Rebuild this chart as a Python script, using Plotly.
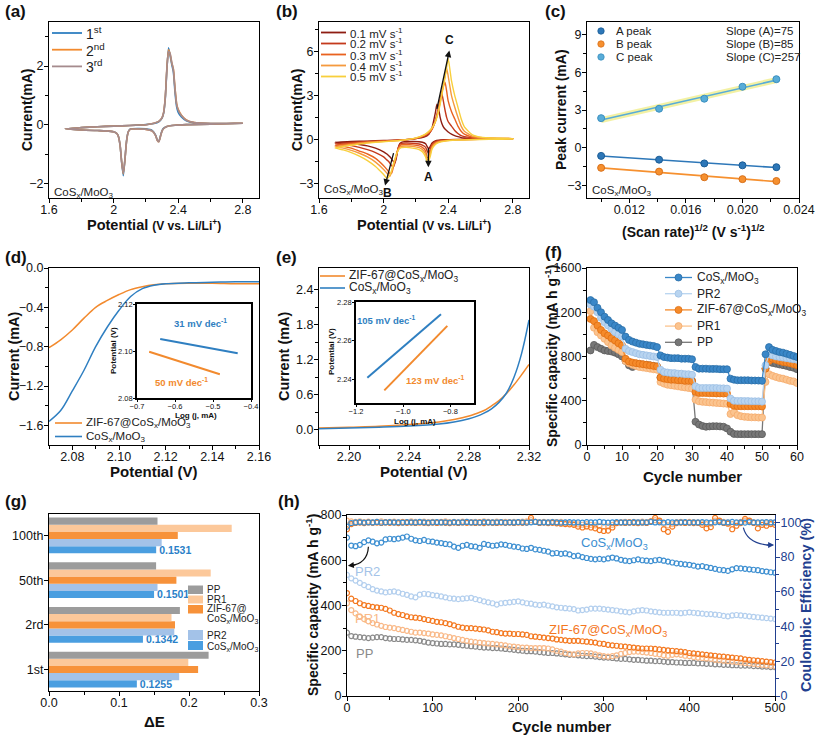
import plotly.graph_objects as go
import numpy as np

W, H = 817, 736
FONT = "Liberation Sans, Arial, sans-serif"

# ---------------- (a) CV, three cycles ----------------
A_V_AN = [1.70, 1.80, 1.90, 2.00, 2.10, 2.20, 2.25, 2.28, 2.30, 2.31, 2.32, 2.33, 2.34, 2.35, 2.36,
          2.37, 2.38, 2.39, 2.40, 2.42, 2.45, 2.50, 2.60, 2.70, 2.80]
A_AN_1 = [-0.14, -0.10, -0.07, -0.05, -0.03, 0.0, 0.04, 0.10, 0.22, 0.40, 0.90, 1.90, 2.62, 2.35, 2.05,
          1.80, 1.10, 0.62, 0.42, 0.26, 0.13, 0.06, 0.04, 0.04, 0.05]
A_AN_2 = [-0.14, -0.10, -0.07, -0.05, -0.03, 0.0, 0.05, 0.11, 0.24, 0.43, 0.95, 1.95, 2.55, 2.40, 2.10,
          1.90, 1.25, 0.72, 0.52, 0.32, 0.16, 0.07, 0.04, 0.04, 0.05]
A_AN_3 = [-0.14, -0.10, -0.07, -0.05, -0.03, 0.0, 0.05, 0.11, 0.24, 0.42, 0.93, 1.92, 2.50, 2.42, 2.12,
          1.88, 1.22, 0.70, 0.50, 0.31, 0.15, 0.07, 0.04, 0.04, 0.05]
A_V_CA = [2.80, 2.60, 2.45, 2.38, 2.33, 2.31, 2.30, 2.29, 2.28, 2.27, 2.26, 2.24, 2.20, 2.15, 2.11, 2.10,
          2.09, 2.08, 2.07, 2.06, 2.05, 2.04, 2.03, 2.02, 2.00, 1.95, 1.90, 1.80, 1.70]
A_CA_1 = [0.05, 0.02, 0.0, -0.02, -0.06, -0.12, -0.20, -0.38, -0.57, -0.52, -0.36, -0.20, -0.14, -0.13, -0.14,
          -0.16, -0.25, -0.55, -1.20, -1.74, -1.30, -0.70, -0.40, -0.30, -0.24, -0.21, -0.20, -0.18, -0.14]
A_CA_2 = [0.05, 0.02, 0.0, -0.02, -0.06, -0.13, -0.21, -0.40, -0.58, -0.53, -0.37, -0.22, -0.16, -0.15, -0.15,
          -0.17, -0.26, -0.57, -1.20, -1.68, -1.28, -0.70, -0.41, -0.30, -0.24, -0.21, -0.20, -0.18, -0.14]
A_CA_3 = [0.05, 0.02, 0.0, -0.02, -0.06, -0.13, -0.21, -0.40, -0.58, -0.53, -0.37, -0.22, -0.16, -0.15, -0.15,
          -0.17, -0.26, -0.57, -1.18, -1.66, -1.27, -0.70, -0.41, -0.30, -0.24, -0.21, -0.20, -0.18, -0.14]
A_NAMES = ["1<sup>st</sup>", "2<sup>nd</sup>", "3<sup>rd</sup>"]
A_COLORS = ["#2f7fc1", "#f28a2e", "#a58b8d"]

# ---------------- (b) CV at different scan rates ----------------
B_RATES = ["0.1 mV s<sup>-1</sup>", "0.2 mV s<sup>-1</sup>", "0.3 mV s<sup>-1</sup>",
           "0.4 mV s<sup>-1</sup>", "0.5 mV s<sup>-1</sup>"]
B_V_AN = [1.70, 1.80, 1.90, 2.00, 2.10, 2.20, 2.25, 2.28, 2.30, 2.32, 2.33, 2.34, 2.35, 2.36, 2.37, 2.38,
          2.39, 2.40, 2.42, 2.44, 2.46, 2.48, 2.50, 2.55, 2.60, 2.70, 2.80]
B_AN = [
    [-0.20, -0.15, -0.12, -0.08, -0.04, 0.05, 0.15, 0.35, 0.8, 1.8, 2.4, 2.1, 1.5, 1.1, 0.85, 0.7,
     0.6, 0.5, 0.35, 0.25, 0.18, 0.12, 0.09, 0.06, 0.05, 0.05, 0.05],
    [-0.30, -0.22, -0.15, -0.10, -0.05, 0.06, 0.2, 0.4, 0.7, 1.3, 1.7, 2.2, 2.7, 3.15, 2.6, 2.0,
     1.5, 1.2, 0.9, 0.6, 0.4, 0.25, 0.18, 0.1, 0.07, 0.05, 0.05],
    [-0.40, -0.28, -0.18, -0.12, -0.06, 0.07, 0.25, 0.45, 0.7, 1.2, 1.6, 2.1, 2.6, 3.2, 3.6, 3.9,
     3.3, 2.6, 1.9, 1.4, 0.9, 0.55, 0.35, 0.15, 0.1, 0.06, 0.05],
    [-0.50, -0.34, -0.22, -0.14, -0.07, 0.08, 0.28, 0.5, 0.75, 1.2, 1.55, 2.0, 2.5, 3.1, 3.7, 4.3,
     4.85, 4.3, 3.0, 2.2, 1.5, 0.9, 0.55, 0.22, 0.12, 0.07, 0.05],
    [-0.60, -0.40, -0.26, -0.16, -0.08, 0.10, 0.3, 0.55, 0.8, 1.2, 1.5, 1.9, 2.4, 3.0, 3.6, 4.2,
     4.9, 5.5, 4.0, 3.0, 2.2, 1.4, 0.85, 0.3, 0.15, 0.08, 0.05],
]
B_V_CA = [2.80, 2.60, 2.45, 2.38, 2.34, 2.32, 2.30, 2.29, 2.28, 2.27, 2.26, 2.24, 2.22, 2.18, 2.14, 2.11,
          2.10, 2.09, 2.08, 2.07, 2.06, 2.05, 2.04, 2.03, 2.02, 2.00, 1.95, 1.90, 1.85, 1.80, 1.75, 1.70]
B_CA = [
    [0.05, 0.02, 0.0, -0.02, -0.05, -0.1, -0.25, -0.45, -0.65, -0.5, -0.3, -0.2, -0.16, -0.14, -0.15, -0.2,
     -0.3, -0.6, -1.2, -1.6, -1.5, -1.35, -1.2, -1.1, -1.0, -0.85, -0.6, -0.45, -0.35, -0.28, -0.23, -0.2],
    [0.05, 0.02, -0.02, -0.05, -0.1, -0.15, -0.35, -0.6, -0.95, -0.8, -0.55, -0.4, -0.32, -0.27, -0.25, -0.27,
     -0.35, -0.6, -1.1, -1.6, -1.9, -1.8, -1.65, -1.5, -1.4, -1.2, -0.9, -0.7, -0.55, -0.43, -0.35, -0.3],
    [0.04, 0.01, -0.03, -0.08, -0.15, -0.22, -0.45, -0.8, -1.2, -1.25, -0.8, -0.55, -0.45, -0.38, -0.35, -0.37,
     -0.45, -0.65, -1.0, -1.5, -1.9, -2.3, -2.35, -2.2, -2.05, -1.8, -1.3, -1.0, -0.8, -0.6, -0.48, -0.4],
    [0.04, 0.0, -0.04, -0.1, -0.18, -0.28, -0.55, -0.95, -1.3, -1.4, -1.0, -0.7, -0.57, -0.48, -0.45, -0.47,
     -0.55, -0.7, -1.0, -1.4, -1.8, -2.2, -2.5, -2.45, -2.3, -2.05, -1.55, -1.2, -0.95, -0.75, -0.6, -0.5],
    [0.03, -0.01, -0.05, -0.12, -0.22, -0.35, -0.65, -1.1, -1.45, -1.6, -1.2, -0.85, -0.7, -0.6, -0.55, -0.57,
     -0.63, -0.75, -1.0, -1.35, -1.7, -2.1, -2.4, -2.6, -2.65, -2.4, -1.85, -1.45, -1.15, -0.9, -0.72, -0.6],
]
B_COLORS = ["#8e1d12", "#c43a1c", "#e9621f", "#f59a3e", "#f8cf3c"]

# ---------------- (c) peak current vs sqrt(scan rate) ----------------
C_X = [0.0100, 0.0141, 0.0173, 0.0200, 0.0224]
C_A = [-0.65, -0.95, -1.25, -1.40, -1.55]
C_B = [-1.60, -1.90, -2.35, -2.50, -2.65]
C_C = [2.35, 3.10, 3.90, 4.85, 5.45]
C_NAMES = ["A peak", "B peak", "C peak"]
C_SLOPES = ["Slope (A)=75", "Slope (B)=85", "Slope (C)=257"]
C_COLORS = ["#2d77b8", "#f6902f", "#58acd8"]
C_EDGES = ["#1b5d96", "#d8701a", "#3a8fbf"]

# ---------------- (d) LSV (reduction) ----------------
D_V = [2.070, 2.075, 2.080, 2.085, 2.090, 2.095, 2.100, 2.105, 2.110, 2.115, 2.120, 2.130, 2.140, 2.150, 2.160]
D_ZIF = [-0.81, -0.73, -0.63, -0.51, -0.40, -0.33, -0.27, -0.22, -0.19, -0.17, -0.16, -0.155, -0.155, -0.16, -0.16]
D_CO = [-1.56, -1.45, -1.25, -1.04, -0.80, -0.60, -0.43, -0.29, -0.21, -0.175, -0.16, -0.15, -0.145, -0.14, -0.14]
D_TAFEL_ZIF_X = [-0.668, -0.482]
D_TAFEL_ZIF_Y = [2.0997, 2.0901]
D_TAFEL_CO_X = [-0.639, -0.435]
D_TAFEL_CO_Y = [2.1051, 2.0990]

# ---------------- (e) LSV (oxidation) ----------------
E_V = [2.18, 2.20, 2.22, 2.24, 2.26, 2.27, 2.28, 2.285, 2.29, 2.295, 2.30, 2.305, 2.31, 2.315, 2.32]
E_ZIF = [0.03, 0.045, 0.06, 0.09, 0.135, 0.175, 0.235, 0.28, 0.33, 0.41, 0.50, 0.62, 0.77, 0.94, 1.12]
E_CO = [0.02, 0.03, 0.045, 0.065, 0.10, 0.135, 0.19, 0.23, 0.285, 0.36, 0.47, 0.63, 0.90, 1.30, 1.88]
E_TAFEL_ZIF_X = [-1.080, -0.813]
E_TAFEL_ZIF_Y = [2.2345, 2.2677]
E_TAFEL_CO_X = [-1.152, -0.840]
E_TAFEL_CO_Y = [2.2410, 2.2737]

# ---------------- (f) rate capability ----------------
F_CYC = list(range(1, 61))
F_CO = [1310, 1290, 1240, 1200, 1160, 1130, 1100, 1080, 1060, 1040,
        980, 950, 935, 925, 915, 910, 905, 900, 895, 885,
        810, 795, 790, 785, 785, 785, 780, 780, 780, 775,
        705, 690, 690, 690, 688, 688, 688, 685, 685, 685,
        600, 590, 585, 585, 585, 585, 583, 583, 582, 580,
        820, 885, 860, 850, 840, 835, 825, 815, 805, 795]
F_PR2 = [1270, 1250, 1200, 1150, 1110, 1080, 1050, 1020, 1000, 980,
         870, 850, 840, 830, 820, 815, 810, 805, 800, 795,
         680, 660, 655, 650, 650, 645, 645, 640, 640, 635,
         530, 515, 515, 515, 515, 515, 515, 512, 512, 510,
         420, 400, 398, 398, 397, 397, 395, 395, 395, 392,
         720, 820, 810, 800, 795, 790, 785, 780, 775, 770]
F_ZIF = [1140, 1120, 1080, 1040, 1010, 990, 965, 945, 920, 900,
         780, 755, 745, 740, 735, 730, 725, 720, 715, 710,
         610, 600, 595, 590, 590, 585, 585, 580, 580, 578,
         480, 470, 470, 470, 468, 468, 466, 466, 465, 465,
         370, 355, 350, 350, 350, 350, 350, 350, 350, 348,
         690, 760, 780, 770, 760, 750, 745, 740, 730, 720]
F_PR1 = [1210, 1060, 1020, 990, 960, 930, 900, 880, 860, 840,
         760, 740, 725, 715, 705, 700, 695, 690, 685, 680,
         570, 555, 545, 540, 535, 530, 525, 520, 515, 510,
         410, 395, 390, 388, 385, 383, 380, 378, 375, 372,
         280, 295, 270, 260, 255, 252, 250, 250, 248, 248,
         570, 640, 625, 615, 605, 600, 590, 580, 575, 560]
F_PP = [855, 905, 885, 870, 855, 850, 845, 835, 820, 800,
        760, 720, 705, 735, 730, 728, 725, 720, 715, 710,
        610, 600, 598, 595, 592, 590, 588, 585, 582, 580,
        210, 185, 172, 165, 168, 170, 170, 168, 165, 150,
        120, 100, 98, 98, 98, 98, 98, 98, 98, 98,
        690, 750, 742, 735, 728, 722, 715, 705, 698, 685]
F_NAMES = ["CoS<sub>x</sub>/MoO<sub>3</sub>", "PR2", "ZIF-67@CoS<sub>x</sub>/MoO<sub>3</sub>", "PR1", "PP"]
F_COLORS = ["#3a87c8", "#b8d4f0", "#f58a2a", "#fbc48f", "#777777"]
F_EDGES = ["#2a6ea8", "#9cbfe4", "#e06f12", "#f5ab6c", "#5a5a5a"]

# ---------------- (g) ΔE bars ----------------
G_CATS = ["1st", "2rd", "50th", "100th"]
G_PP = [0.228, 0.187, 0.153, 0.155]
G_PR1 = [0.199, 0.175, 0.231, 0.261]
G_ZIF = [0.213, 0.180, 0.182, 0.184]
G_PR2 = [0.186, 0.179, 0.155, 0.161]
G_CO = [0.1255, 0.1342, 0.1501, 0.1531]
G_COLORS = {"PP": "#9c9c9c", "PR1": "#fcc89a", "ZIF": "#f7923a", "PR2": "#a3c2e8", "CO": "#4a9ee0"}

# ---------------- (h) long cycling ----------------
H_CYC = list(range(0, 501, 5))
H_CO = [700, 665, 662, 668, 680, 688, 682, 675, 678, 692,
        695, 693, 696, 700, 705, 695, 688, 685, 690, 684,
        682, 678, 676, 672, 670, 660, 655, 664, 668, 662,
        660, 655, 672, 668, 664, 666, 670, 668, 664, 660,
        658, 652, 650, 655, 648, 646, 642, 638, 630, 632,
        628, 630, 626, 618, 620, 614, 610, 606, 604, 606,
        604, 608, 612, 608, 602, 598, 596, 600, 604, 600,
        598, 596, 600, 602, 598, 594, 590, 586, 584, 582,
        580, 576, 572, 574, 570, 566, 562, 558, 556, 553,
        560, 565, 564, 562, 560, 558, 556, 552, 550, 547, 545]
H_PR2 = [535, 520, 510, 500, 490, 482, 472, 466, 462, 458,
         460, 462, 458, 452, 447, 440, 436, 448, 452, 450,
         446, 444, 440, 436, 432, 430, 428, 430, 432, 434,
         428, 424, 418, 414, 410, 404, 410, 412, 414, 416,
         418, 414, 410, 408, 404, 402, 404, 400, 396, 392,
         390, 388, 386, 384, 378, 380, 382, 386, 386, 386,
         384, 382, 380, 378, 374, 372, 370, 374, 378, 380,
         378, 374, 372, 370, 368, 368, 368, 368, 366, 368,
         370, 368, 366, 364, 362, 362, 360, 358, 354, 352,
         356, 358, 356, 354, 352, 350, 348, 346, 344, 342, 340]
H_ZIF = [455, 430, 420, 410, 402, 398, 394, 392, 390, 385,
         378, 368, 362, 358, 352, 348, 346, 344, 340, 336,
         332, 328, 326, 322, 318, 312, 306, 302, 300, 300,
         298, 296, 294, 290, 284, 282, 278, 276, 276, 274,
         274, 272, 270, 264, 262, 260, 258, 256, 254, 250,
         248, 246, 244, 244, 244, 242, 240, 238, 236, 232,
         230, 226, 224, 222, 220, 218, 216, 214, 212, 210,
         210, 210, 208, 206, 204, 202, 200, 198, 196, 194,
         190, 188, 186, 184, 182, 180, 178, 175, 174, 172,
         170, 168, 166, 162, 160, 158, 156, 154, 152, 150, 148]
H_PR1 = [410, 380, 365, 352, 340, 330, 322, 316, 310, 305,
         302, 300, 296, 292, 288, 284, 280, 280, 278, 276,
         272, 270, 268, 264, 260, 256, 252, 248, 244, 240,
         238, 236, 234, 232, 230, 228, 226, 224, 220, 218,
         216, 214, 214, 212, 212, 212, 212, 210, 206, 200,
         196, 190, 186, 184, 188, 190, 190, 188, 184, 180,
         176, 174, 176, 180, 186, 190, 194, 196, 196, 194,
         192, 190, 186, 184, 180, 178, 182, 184, 182, 178,
         176, 172, 170, 168, 166, 164, 160, 158, 156, 154,
         152, 150, 148, 146, 144, 142, 140, 138, 136, 134, 132]
H_PP = [280, 265, 262, 260, 258, 256, 258, 260, 260, 256,
        254, 252, 252, 250, 248, 248, 246, 244, 240, 236,
        234, 232, 230, 230, 228, 228, 226, 224, 222, 220,
        218, 216, 214, 214, 212, 212, 210, 208, 206, 204,
        202, 200, 198, 198, 196, 194, 192, 190, 190, 188,
        186, 184, 182, 182, 180, 178, 176, 176, 174, 172,
        170, 170, 168, 166, 164, 164, 162, 160, 160, 158,
        156, 156, 154, 154, 152, 150, 150, 148, 148, 146,
        146, 146, 144, 144, 142, 142, 140, 140, 138, 138,
        136, 136, 134, 134, 134, 132, 132, 130, 130, 128, 128]
H_CE_CO = [97.5, 99.6, 99.9, 100.1, 99.8, 100.0, 99.9, 100.2, 99.8, 100.0,
           100.1, 99.9, 100.0, 99.8, 100.1, 100.0, 99.9, 100.2, 100.0, 99.8,
           100.0, 100.1, 99.9, 100.0, 99.8, 100.1, 99.9, 100.0, 100.2, 99.9,
           100.0, 99.8, 100.1, 100.0, 99.9, 100.0, 100.1, 99.8, 100.0, 99.9,
           100.1, 100.0, 99.8, 100.0, 100.2, 99.9, 100.0, 99.9, 100.1, 100.0,
           99.8, 100.0, 100.1, 99.9, 100.0, 99.8, 100.1, 100.0, 99.9, 100.2,
           100.0, 99.8, 100.0, 100.1, 99.9, 100.0, 99.8, 100.1, 100.0, 99.9,
           100.0, 100.2, 99.9, 100.0, 99.8, 100.1, 100.0, 99.9, 100.0, 100.1,
           99.8, 100.0, 99.9, 100.1, 100.0, 99.8, 100.0, 100.1, 99.9, 100.0,
           100.2, 99.9, 100.0, 99.8, 100.1, 100.0, 99.9, 100.0, 100.1, 99.9, 100.0]
H_CE_ZIF = [96.0, 99.0, 99.6, 99.8, 99.5, 99.9, 99.7, 99.8, 99.6, 99.9,
            99.7, 99.8, 99.5, 99.9, 99.7, 99.8, 99.6, 99.9, 99.7, 99.5,
            99.8, 99.6, 99.9, 99.7, 99.5, 99.8, 99.6, 99.9, 99.7, 99.8,
            99.6, 99.9, 99.5, 99.8, 99.7, 99.6, 99.9, 99.7, 99.8, 99.6,
            99.9, 99.7, 99.8, 102.5, 100.2, 99.6, 99.8, 99.5, 99.7, 99.4,
            99.2, 99.0, 98.8, 98.5, 97.5, 97.0, 97.6, 97.0, 96.5, 95.5,
            95.0, 95.2, 97.0, 99.5, 99.8, 99.6, 99.9, 99.7, 99.5, 99.8,
            99.6, 100.5, 102.5, 101.0, 96.0, 94.5, 97.5, 99.5, 99.8, 99.6,
            99.8, 99.5, 99.7, 98.5, 96.5, 97.2, 102.5, 101.0, 99.6, 99.2,
            96.0, 98.0, 99.5, 102.0, 101.0, 99.6, 96.5, 98.5, 98.0, 99.0, 98.5]
H_CE_PR1 = [101.0, 100.5, 100.2, 100.6, 100.1, 100.4, 100.0, 100.3, 100.5, 100.1,
            100.2, 100.4, 100.0, 100.3, 100.1, 100.5, 100.2, 100.0, 100.4, 100.1,
            100.3, 100.0, 100.2, 100.5, 100.1, 100.3, 100.0, 100.4, 100.2, 100.1,
            100.3, 100.0, 100.5, 100.2, 100.1, 100.4, 100.0, 100.3, 100.1, 100.2,
            100.0, 100.4, 100.6, 101.2, 100.3, 100.1, 100.2, 100.0, 100.3, 100.1,
            100.2, 99.8, 99.6, 99.2, 98.8, 98.6, 98.9, 98.5, 98.2, 97.8,
            97.5, 97.6, 98.5, 99.6, 100.0, 100.3, 100.1, 100.2, 100.0, 100.4,
            100.1, 100.6, 101.2, 100.5, 99.0, 98.2, 99.0, 100.1, 100.3, 100.0,
            100.2, 100.1, 99.8, 99.5, 99.0, 99.2, 101.0, 100.6, 100.2, 99.8,
            99.0, 99.6, 100.2, 101.0, 100.5, 100.0, 99.4, 99.8, 99.5, 100.0, 99.8]

BLUE = "#2f7fc1"
ORANGE = "#f28a2e"
C_CO = "#3d8fd1"
C_PR2 = "#b3cfee"
C_ZIF = "#f4781f"
C_PR1 = "#f9b988"
C_PP = "#8a8a8a"
NAVY = "#22408f"
CO_NAME = "CoS<sub>x</sub>/MoO<sub>3</sub>"
ZIF_NAME = "ZIF-67@CoS<sub>x</sub>/MoO<sub>3</sub>"


def dx(l, r):
    return [l / W, r / W]


def dy(t, b):
    return [1 - b / H, 1 - t / H]


def axis(dom, anchor, rng, tickvals=None, minor=None, tsize=12.5, lw=1.2, **kw):
    d = dict(domain=dom, anchor=anchor, range=rng, showline=True, linecolor="black", linewidth=lw,
             mirror=True, ticks="outside", ticklen=4, tickwidth=1.1, tickcolor="black",
             showgrid=False, zeroline=False, automargin=False,
             tickfont=dict(size=tsize, color="#111", family=FONT))
    if tickvals is not None:
        d["tickvals"] = tickvals
    if minor is not None:
        d["minor"] = dict(ticks="outside", ticklen=2.5, tickwidth=1, tickcolor="black",
                          tickvals=minor, showgrid=False)
    d.update(kw)
    return d


fig = go.Figure()
SL = dict(showlegend=False)

# ---- (a)
for an, ca, col in zip([A_AN_1, A_AN_2, A_AN_3], [A_CA_1, A_CA_2, A_CA_3], A_COLORS):
    fig.add_trace(go.Scatter(x=A_V_AN + A_V_CA, y=an + ca, mode="lines", **SL,
                             line=dict(color=col, width=1.6, shape="spline", smoothing=0.5),
                             xaxis="x", yaxis="y"))

# ---- (b)
for an, ca, col in zip(B_AN, B_CA, B_COLORS):
    fig.add_trace(go.Scatter(x=B_V_AN + B_V_CA, y=an + ca, mode="lines", **SL,
                             line=dict(color=col, width=1.4, shape="spline", smoothing=0.5),
                             xaxis="x2", yaxis="y2"))

# ---- (c)
c_fit_x = np.array([C_X[0], C_X[-1]])
k = np.polyfit(C_X, C_C, 1)
fig.add_trace(go.Scatter(x=c_fit_x, y=np.polyval(k, c_fit_x), mode="lines", **SL,
                         line=dict(color="rgba(240,238,140,0.8)", width=6), xaxis="x3", yaxis="y3",
                         hoverinfo="skip"))
for ys, col in zip([C_A, C_B, C_C], C_COLORS):
    k = np.polyfit(C_X, ys, 1)
    fig.add_trace(go.Scatter(x=c_fit_x, y=np.polyval(k, c_fit_x), mode="lines", **SL,
                             line=dict(color=col, width=1.6), xaxis="x3", yaxis="y3"))
for ys, col, edge in zip([C_A, C_B, C_C], C_COLORS, C_EDGES):
    fig.add_trace(go.Scatter(x=C_X, y=ys, mode="markers", **SL,
                             marker=dict(size=7, color=col, line=dict(color=edge, width=1)),
                             xaxis="x3", yaxis="y3"))

# ---- (d)
fig.add_trace(go.Scatter(x=D_V, y=D_ZIF, mode="lines", **SL,
                         line=dict(color=ORANGE, width=1.5, shape="spline"), xaxis="x4", yaxis="y4"))
fig.add_trace(go.Scatter(x=D_V, y=D_CO, mode="lines", **SL,
                         line=dict(color=BLUE, width=1.5, shape="spline"), xaxis="x4", yaxis="y4"))
fig.add_trace(go.Scatter(x=D_TAFEL_CO_X, y=D_TAFEL_CO_Y, mode="lines", **SL,
                         line=dict(color=BLUE, width=2), xaxis="x5", yaxis="y5"))
fig.add_trace(go.Scatter(x=D_TAFEL_ZIF_X, y=D_TAFEL_ZIF_Y, mode="lines", **SL,
                         line=dict(color=ORANGE, width=2), xaxis="x5", yaxis="y5"))

# ---- (e)
fig.add_trace(go.Scatter(x=E_V, y=E_ZIF, mode="lines", **SL,
                         line=dict(color=ORANGE, width=1.5, shape="spline"), xaxis="x6", yaxis="y6"))
fig.add_trace(go.Scatter(x=E_V, y=E_CO, mode="lines", **SL,
                         line=dict(color=BLUE, width=1.5, shape="spline"), xaxis="x6", yaxis="y6"))
fig.add_trace(go.Scatter(x=E_TAFEL_CO_X, y=E_TAFEL_CO_Y, mode="lines", **SL,
                         line=dict(color=BLUE, width=2), xaxis="x7", yaxis="y7"))
fig.add_trace(go.Scatter(x=E_TAFEL_ZIF_X, y=E_TAFEL_ZIF_Y, mode="lines", **SL,
                         line=dict(color=ORANGE, width=2), xaxis="x7", yaxis="y7"))

# ---- (f)
for ys, col, edge in reversed(list(zip([F_CO, F_PR2, F_ZIF, F_PR1, F_PP], F_COLORS, F_EDGES))):
    fig.add_trace(go.Scatter(x=F_CYC, y=ys, mode="lines+markers", **SL,
                             line=dict(color=col, width=1.3),
                             marker=dict(size=7, color=col, line=dict(color=edge, width=0.8)),
                             xaxis="x8", yaxis="y8"))

# ---- (g)  (first trace sits lowest in each group)
for key, vals in [("CO", G_CO), ("PR2", G_PR2), ("ZIF", G_ZIF), ("PR1", G_PR1), ("PP", G_PP)]:
    is_co = key == "CO"
    fig.add_trace(go.Bar(y=G_CATS, x=vals, orientation="h", **SL,
                         marker=dict(color=G_COLORS[key], line=dict(width=0)),
                         text=[f"<b>{v:.4f}</b>" for v in vals] if is_co else None,
                         textposition="outside" if is_co else "none",
                         textfont=dict(size=10.5, color="#2a80c8", family=FONT),
                         constraintext="none", cliponaxis=False,
                         xaxis="x9", yaxis="y9"))

# ---- (h)
for ys, col in [(H_CE_PR1, C_PR1), (H_CE_ZIF, C_ZIF), (H_CE_CO, C_CO)]:
    fig.add_trace(go.Scatter(x=H_CYC, y=ys, mode="markers", **SL,
                             marker=dict(symbol="circle-open", size=5, color=col, line=dict(width=1.2)),
                             xaxis="x10", yaxis="y11"))
for ys, col in [(H_PP, C_PP), (H_PR1, C_PR1), (H_ZIF, C_ZIF), (H_PR2, C_PR2), (H_CO, C_CO)]:
    fig.add_trace(go.Scatter(x=H_CYC, y=ys, mode="markers", **SL,
                             marker=dict(symbol="circle-open", size=5, color=col, line=dict(width=1.2)),
                             xaxis="x10", yaxis="y10"))

# ---------------- axes ----------------
AX = dx(49, 259); BX = dx(319, 529); CX = dx(587, 799)
ROW1 = dy(22, 198); ROW2 = dy(268, 445)
INS = dict(tsize=7.5, lw=1.8, ticklen=2)
layout_axes = dict(
    xaxis=axis(AX, "y", [1.6, 2.9], [1.6, 2.0, 2.4, 2.8], [1.8, 2.2, 2.6]),
    yaxis=axis(ROW1, "x", [-2.5, 3.5], [-2, 0, 2], [-1, 1, 3]),
    xaxis2=axis(BX, "y2", [1.6, 2.9], [1.6, 2.0, 2.4, 2.8], [1.8, 2.2, 2.6]),
    yaxis2=axis(ROW1, "x2", [-4, 8], [-3, 0, 3, 6], [-1.5, 1.5, 4.5, 7.5]),
    xaxis3=axis(CX, "y3", [0.009, 0.024], [0.012, 0.016, 0.020, 0.024], [0.010, 0.014, 0.018, 0.022],
                tickformat=".3f"),
    yaxis3=axis(ROW1, "x3", [-4, 10], [-3, 0, 3, 6, 9], [-1.5, 1.5, 4.5, 7.5]),
    xaxis4=axis(AX, "y4", [2.07, 2.16], [2.08, 2.10, 2.12, 2.14, 2.16], [2.07, 2.09, 2.11, 2.13, 2.15],
                tickformat=".2f"),
    yaxis4=axis(ROW2, "x4", [-1.8, 0.0], [-1.6, -1.2, -0.8, -0.4, 0.0], [-1.4, -1.0, -0.6, -0.2],
                tickformat=".1f"),
    xaxis5=axis(dx(137, 251), "y5", [-0.7, -0.4], [-0.7, -0.6, -0.5, -0.4], tickformat=".1f",
                tickprefix="<b>", ticksuffix="</b>", **INS),
    yaxis5=axis(dy(304, 398), "x5", [2.08, 2.12], [2.08, 2.10, 2.12], tickformat=".2f",
                tickprefix="<b>", ticksuffix="</b>", **INS),
    xaxis6=axis(BX, "y6", [2.18, 2.32], [2.20, 2.24, 2.28, 2.32], [2.18, 2.22, 2.26, 2.30],
                tickformat=".2f"),
    yaxis6=axis(ROW2, "x6", [-0.26, 2.77], [0.0, 0.6, 1.2, 1.8, 2.4], [0.3, 0.9, 1.5, 2.1],
                tickformat=".1f"),
    xaxis7=axis(dx(356, 474), "y7", [-1.2, -0.7], [-1.2, -1.0, -0.8], tickformat=".1f",
                tickprefix="<b>", ticksuffix="</b>", **INS),
    yaxis7=axis(dy(302, 403), "x7", [2.228, 2.28], [2.24, 2.26, 2.28], tickformat=".2f",
                tickprefix="<b>", ticksuffix="</b>", **INS),
    xaxis8=axis(dx(587, 797), "y8", [0, 60], [0, 10, 20, 30, 40, 50, 60], [5, 15, 25, 35, 45, 55]),
    yaxis8=axis(ROW2, "x8", [0, 1600], [0, 400, 800, 1200, 1600], [200, 600, 1000, 1400]),
    xaxis9=axis(dx(49, 259), "y9", [0, 0.3], [0.0, 0.1, 0.2, 0.3], [0.05, 0.15, 0.25], tickformat=".1f"),
    yaxis9=axis(dy(514, 691), "x9", [-0.48, 3.48], type="category", categoryorder="array",
                categoryarray=G_CATS),
    xaxis10=axis(dx(347, 775), "y10", [0, 500], [0, 100, 200, 300, 400, 500], [50, 150, 250, 350, 450]),
    yaxis10=axis(dy(515, 696), "x10", [0, 800], [0, 200, 400, 600, 800], [100, 300, 500, 700], mirror=False),
    yaxis11=axis(dy(515, 696), "x10", [0, 104.2], [0, 20, 40, 60, 80, 100], [10, 30, 50, 70, 90],
                 overlaying="y10", side="right", mirror=False, linecolor=NAVY, tickcolor=NAVY),
)
layout_axes["yaxis11"]["tickfont"]["color"] = NAVY
layout_axes["yaxis11"]["minor"]["tickcolor"] = NAVY
for key, a in layout_axes.items():
    inset = key in ("xaxis5", "yaxis5", "xaxis7", "yaxis7")
    if key.startswith("xaxis"):
        a["ticklabelstandoff"] = -2 if inset else -4
    else:
        a["ticklabelstandoff"] = -1 if inset else -2
fig.update_layout(**layout_axes)

# ---------------- annotations & shapes ----------------
ann = []
shapes = []


def text(x, y, t, size, color="#111", xanchor="left", angle=0, bold=False):
    ann.append(dict(text=f"<b>{t}</b>" if bold else t, x=x / W, y=1 - y / H, xref="paper", yref="paper",
                    xanchor=xanchor, yanchor="middle", showarrow=False, textangle=angle,
                    font=dict(size=size, family=FONT, color=color)))


def sline(x0, x1, y, color, width=1.6):
    shapes.append(dict(type="line", xref="paper", yref="paper", x0=x0 / W, x1=x1 / W,
                       y0=1 - y / H, y1=1 - y / H, line=dict(color=color, width=width)))


def sdot(cx, cy, r, color, edge):
    shapes.append(dict(type="circle", xref="paper", yref="paper", x0=(cx - r) / W, x1=(cx + r) / W,
                       y0=1 - (cy + r) / H, y1=1 - (cy - r) / H, fillcolor=color,
                       line=dict(color=edge, width=0.8)))


def srect(x0, y0, x1, y1, color):
    shapes.append(dict(type="rect", xref="paper", yref="paper", x0=x0 / W, x1=x1 / W,
                       y0=1 - y1 / H, y1=1 - y0 / H, fillcolor=color, line=dict(width=0)))


# panel letters
for lab, x, y in [("(a)", 3, 12), ("(b)", 274, 12), ("(c)", 543, 12), ("(d)", 3, 257), ("(e)", 274, 257),
                  ("(f)", 543, 252), ("(g)", 3, 501), ("(h)", 276, 501)]:
    text(x, y, lab, 17, bold=True)

# axis titles
XT = "<b>Potential</b> <span style='font-size:12px'><b>(V vs. Li/Li<sup>+</sup>)</b></span>"
text(154, 225, XT, 14.5, xanchor="center")
text(424, 225, XT, 14.5, xanchor="center")
text(693, 231, "(Scan rate)<sup>1/2</sup> (V s<sup>-1</sup>)<sup>1/2</sup>", 14, xanchor="center", bold=True)
text(27, 110, "Current(mA)", 14, xanchor="center", angle=-90, bold=True)
text(297, 110, "Current(mA)", 14, xanchor="center", angle=-90, bold=True)
text(561, 110, "Peak current (mA)", 14, xanchor="center", angle=-90, bold=True)
text(154, 471, "Potential (V)", 15, xanchor="center", bold=True)
text(424, 471, "Potential (V)", 15, xanchor="center", bold=True)
text(692, 476, "Cycle number", 15, xanchor="center", bold=True)
text(14, 356, "Current (mA)", 14.5, xanchor="center", angle=-90, bold=True)
text(284, 356, "Current (mA)", 14.5, xanchor="center", angle=-90, bold=True)
text(551, 356, "Specific capacity (mA h g<sup>-1</sup>)", 14, xanchor="center", angle=-90, bold=True)
text(154, 721, "ΔE", 15, xanchor="center", bold=True)
text(561, 726, "Cycle number", 15, xanchor="center", bold=True)
text(312, 605, "Specific capacity (mA h g<sup>-1</sup>)", 14, xanchor="center", angle=-90, bold=True)
text(806, 605, "Coulombic Efficiency (%)", 14.5, color=NAVY, xanchor="center", angle=-90, bold=True)
# inset titles
text(196, 415, "Log (j, mA)", 8, xanchor="center", bold=True)
text(113, 351, "Potential (V)", 8, xanchor="center", angle=-90, bold=True)
text(415, 421, "Log (j, mA)", 8, xanchor="center", bold=True)
text(331, 352, "Potential (V)", 8, xanchor="center", angle=-90, bold=True)

# legends (a)
for i, (nm, col) in enumerate(zip(A_NAMES, A_COLORS)):
    y = 33 + i * 16.7
    sline(52, 82, y, col, 1.8)
    text(84, y, nm, 14, color="#222")
# legend (b)
for i, (nm, col) in enumerate(zip(B_RATES, B_COLORS)):
    y = 32.5 + i * 11
    sline(321, 346, y, col, 1.8)
    text(348, y, nm, 11.5, color="#222")
# legend (c)
for i, (nm, col, edge) in enumerate(zip(C_NAMES, C_COLORS, C_EDGES)):
    y = 31 + i * 13
    sdot(601, y, 3.2, col, edge)
    text(614, y, nm, 11.5, color="#222")
for i, s in enumerate(C_SLOPES):
    text(724, 31 + i * 13, s, 11.5, color="#222")
# legend (d)
for i, (nm, col) in enumerate([(ZIF_NAME, ORANGE), (CO_NAME, BLUE)]):
    y = 423 + i * 13.5
    sline(55, 82, y, col, 1.6)
    text(84, y, nm, 11.5, color="#222")
# legend (e)
for i, (nm, col) in enumerate([(ZIF_NAME, ORANGE), (CO_NAME, BLUE)]):
    y = 276 + i * 12
    sline(320, 345, y, col, 1.6)
    text(347, y, nm, 12, color="#222")
# legend (f)
for i, (nm, col, edge) in enumerate(zip(F_NAMES, F_COLORS, F_EDGES)):
    y = 277.5 + i * 16.2
    sline(665, 692, y, col, 1.3)
    sdot(678.5, y, 3.5, col, edge)
    text(695, y, nm, 12, color="#222")
# legend (g)
GL = 10
srect(188, 585.5, 203, 594, G_COLORS["PP"]); text(205, 589.5, "PP", GL, color="#222")
srect(188, 595.5, 203, 603.5, G_COLORS["PR1"]); text(205, 599, "PR1", GL, color="#222")
srect(188, 605, 203, 613.5, G_COLORS["ZIF"]); text(205, 608.5, "ZIF-67@", GL, color="#222")
text(205, 618.5, CO_NAME, GL, color="#222")
srect(188, 630, 203, 640, G_COLORS["PR2"]); text(205, 635.5, "PR2", GL, color="#222")
srect(188, 641, 203, 650, G_COLORS["CO"]); text(205, 646.5, CO_NAME, GL, color="#222")

# data-space labels
for xr, yr, x, y in [("x", "y", 1.62, -2.32), ("x2", "y2", 1.62, -3.45), ("x3", "y3", 0.0092, -3.45)]:
    ann.append(dict(text=CO_NAME, x=x, y=y, xref=xr, yref=yr, xanchor="left",
                    yanchor="middle", showarrow=False, font=dict(size=11.5, family=FONT, color="#222")))
for (hx, hy, tx, ty) in [(2.407, 6.05, 2.328, 1.98), (2.277, -1.9, 2.277, -0.5), (2.009, -3.15, 2.064, -0.84)]:
    ann.append(dict(x=hx, y=hy, ax=tx, ay=ty, xref="x2", yref="y2", axref="x2", ayref="y2",
                    showarrow=True, arrowhead=2, arrowsize=1, arrowwidth=1.3, arrowcolor="#111", text=""))
for t, x, y in [("C", 2.405, 6.75), ("A", 2.277, -2.55), ("B", 2.027, -3.65)]:
    ann.append(dict(text=f"<b>{t}</b>", x=x, y=y, xref="x2", yref="y2", showarrow=False,
                    font=dict(size=12, family=FONT, color="#111")))
ann.append(dict(text="<b>31 mV dec<sup>-1</sup></b>", x=-0.532, y=2.1118, xref="x5", yref="y5",
                showarrow=False, font=dict(size=9.5, family=FONT, color=BLUE)))
ann.append(dict(text="<b>50 mV dec<sup>-1</sup></b>", x=-0.583, y=2.0868, xref="x5", yref="y5",
                showarrow=False, font=dict(size=9.5, family=FONT, color=ORANGE)))
ann.append(dict(text="<b>105 mV dec<sup>-1</sup></b>", x=-1.07, y=2.2705, xref="x7", yref="y7",
                showarrow=False, font=dict(size=9.5, family=FONT, color=BLUE)))
ann.append(dict(text="<b>123 mV dec<sup>-1</sup></b>", x=-0.865, y=2.2401, xref="x7", yref="y7",
                showarrow=False, font=dict(size=9.5, family=FONT, color=ORANGE)))
for t, x, y, col in [(CO_NAME, 313, 676, C_CO), ("PR2", 24, 549, "#a4c3e8"),
                     (ZIF_NAME, 305, 291, C_ZIF), ("PR1", 24, 344, C_PR1), ("PP", 21, 190, C_PP)]:
    ann.append(dict(text=t, x=x, y=y, xref="x10", yref="y10", showarrow=False,
                    font=dict(size=13, family=FONT, color=col)))
ann.append(dict(x=1, y=576, ax=9, ay=-1, xref="x10", yref="y10", showarrow=True, arrowhead=2,
                arrowsize=1, arrowwidth=1.2, arrowcolor="#111", text=""))
ann.append(dict(x=499, y=667, ax=-9, ay=0, xref="x10", yref="y10", showarrow=True, arrowhead=2,
                arrowsize=1, arrowwidth=1.2, arrowcolor=NAVY, text=""))
shapes.append(dict(type="path", path="M 25,660 Q 24,585 4,577", xref="x10", yref="y10",
                   line=dict(color="#111", width=1.2)))
shapes.append(dict(type="path", path="M 463,744 Q 468,670 495,667", xref="x10", yref="y10",
                   line=dict(color=NAVY, width=1.2)))

fig.update_layout(annotations=ann, shapes=shapes)
fig.update_layout(
    width=W, height=H, margin=dict(l=0, r=0, t=0, b=0), template="none",
    paper_bgcolor="white", plot_bgcolor="rgba(0,0,0,0)", font=dict(family=FONT, color="#111"),
    barmode="group", bargap=0.2, bargroupgap=0.0, showlegend=False,
)

fig.write_html("out.html")
